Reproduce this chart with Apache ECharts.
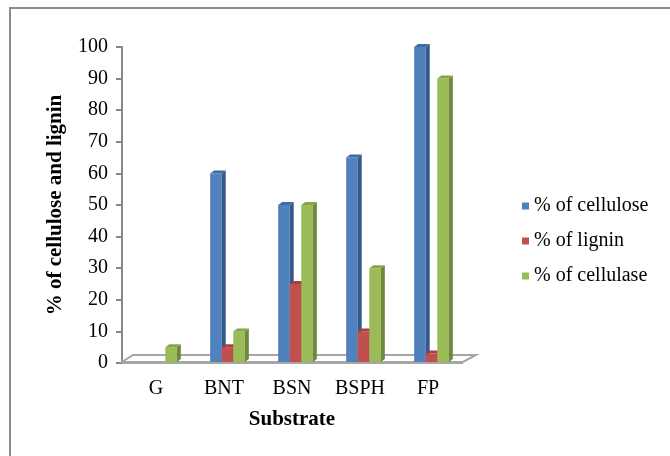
<!DOCTYPE html>
<html>
<head>
<meta charset="utf-8">
<script src="https://cdn.jsdelivr.net/npm/echarts@6/dist/echarts.min.js"></script>
<style>
html,body{margin:0;padding:0;background:#fff;}
#main{width:670px;height:456px;}
</style>
</head>
<body>
<div id="main"></div>
<script>
var categories = ['G', 'BNT', 'BSN', 'BSPH', 'FP'];
var cellulose = [0, 60, 50, 65, 100];
var lignin = [0, 5, 25, 10, 3];
var cellulase = [5, 10, 50, 30, 90];
var seriesNames = ['% of cellulose', '% of lignin', '% of cellulase'];
var yTicks = { min: 0, max: 100, interval: 10 };

var faceColors = [
    { front: '#4f81bd', side: '#34598a', top: '#3f6ca3' },
    { front: '#c0504d', side: '#8c3735', top: '#a8423f' },
    { front: '#9bbb59', side: '#6f883d', top: '#86a44a' }
];
var serif = '"Times New Roman", "Liberation Serif", serif';

// grid edges, px
var gLeft = 122, gRight = 208, gTop = 47, gBottom = 93;

function renderBar(params, api) {
    var cat = api.value(0), val = api.value(1);
    if (!val) return null;
    var c = faceColors[params.seriesIndex];
    var base = api.coord([cat, 0]);
    var top = api.coord([cat, val]);
    var band = api.size([1, 0])[0];
    var bw = band * 0.17;
    var dx = 4, dy = 3;
    var x = base[0] + 3.5 + (params.seriesIndex - 1.5) * bw;
    var y0 = base[1] - 1, y1 = top[1];
    return {
        type: 'group',
        children: [
            { type: 'rect', shape: { x: x, y: y1, width: bw, height: y0 - y1 }, style: { fill: c.front } },
            { type: 'polygon', shape: { points: [[x + bw, y1], [x + bw + dx, y1 - dy], [x + bw + dx, y0 - dy], [x + bw, y0]] }, style: { fill: c.side } },
            { type: 'polygon', shape: { points: [[x, y1], [x + dx, y1 - dy], [x + bw + dx, y1 - dy], [x + bw, y1]] }, style: { fill: c.top } }
        ]
    };
}

function buildSeries(name, values, idx) {
    return {
        name: name,
        type: 'custom',
        renderItem: renderBar,
        itemStyle: { color: faceColors[idx].front },
        encode: { x: 0, y: 1 },
        data: values.map(function (v, i) { return [i, v]; }),
        z: 3
    };
}

function substrateChart() {
    var chart = echarts.init(document.getElementById('main'));
    var W = 670, H = 456;
    var fx0 = gLeft, fx1 = W - gRight, fy = H - gBottom;

    var option = {
        animation: false,
        backgroundColor: '#fff',
        grid: { left: gLeft, right: gRight, top: gTop, bottom: gBottom },
        legend: {
            orient: 'vertical',
            left: 517,
            top: 191,
            itemWidth: 7,
            itemHeight: 7,
            itemGap: 15,
            icon: 'rect',
            data: seriesNames,
            textStyle: { fontFamily: serif, fontSize: 20, color: '#000', lineHeight: 20 }
        },
        xAxis: {
            type: 'category',
            data: categories,
            name: 'Substrate',
            nameLocation: 'middle',
            nameGap: 46,
            nameTextStyle: { fontFamily: serif, fontSize: 21, fontWeight: 'bold', color: '#000' },
            axisLine: { show: false },
            axisTick: { show: false },
            axisLabel: { fontFamily: serif, fontSize: 20, color: '#000', margin: 16 },
            splitLine: { show: false }
        },
        yAxis: {
            type: 'value',
            min: yTicks.min,
            max: yTicks.max,
            interval: yTicks.interval,
            name: '% of cellulose and lignin',
            nameLocation: 'middle',
            nameRotate: 90,
            nameGap: 56,
            nameTextStyle: { fontFamily: serif, fontSize: 21, fontWeight: 'bold', color: '#000' },
            axisLine: { show: true, lineStyle: { color: '#878787', width: 2 } },
            axisTick: { show: true, length: 6, lineStyle: { color: '#878787', width: 2 } },
            axisLabel: { fontFamily: serif, fontSize: 20, color: '#000', margin: 14 },
            splitLine: { show: false }
        },
        graphic: [
            {
                type: 'rect',
                shape: { x: 10, y: 8, width: 700, height: 500 },
                style: { fill: 'none', stroke: '#8c8c8c', lineWidth: 2 },
                z: 0
            },
            {
                type: 'polygon',
                shape: { points: [[fx0, fy - 1], [fx1 + 1, fy - 1], [fx1 + 14, fy - 8], [fx0 + 11, fy - 8]] },
                style: { fill: '#fff', stroke: '#a6a6a6', lineWidth: 2 },
                z: 1
            },
            {
                type: 'line',
                shape: { x1: fx0, y1: fy, x2: fx1 + 1, y2: fy },
                style: { stroke: '#a6a6a6', lineWidth: 2 },
                z: 1
            }
        ],
        series: [
            buildSeries(seriesNames[0], cellulose, 0),
            buildSeries(seriesNames[1], lignin, 1),
            buildSeries(seriesNames[2], cellulase, 2)
        ]
    };

    chart.setOption(option);
}

substrateChart();
</script>
</body>
</html>
